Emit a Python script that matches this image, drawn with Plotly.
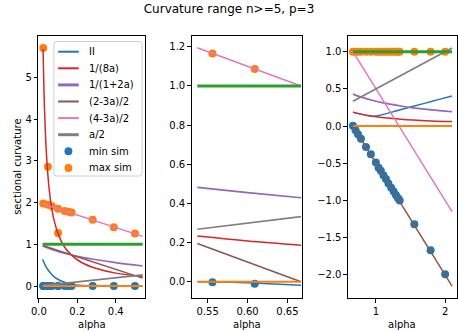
import plotly.graph_objects as go

W, H = 458, 332
FONT = "DejaVu Sans"

C_BLUE = "#1f77b4"; C_ORANGE = "#ff7f0e"; C_GREEN = "#2ca02c"; C_RED = "#d62728"
C_PURPLE = "#9467bd"; C_BROWN = "#8c564b"; C_PINK = "#e377c2"; C_GRAY = "#7f7f7f"

# ---------------- Panel 1 data ----------------
p1_ii_x = [0.02, 0.036, 0.054, 0.08, 0.116, 0.152, 0.19, 0.25, 0.35, 0.54]
p1_ii_y = [0.64, 0.47, 0.35, 0.22, 0.12, 0.064, 0.025, 0.01, 0.003, 0.0]
p1_red_x = [0.022, 0.024, 0.027, 0.03, 0.034, 0.04, 0.046, 0.055, 0.065, 0.08, 0.1, 0.13, 0.17, 0.22, 0.3, 0.4, 0.54]
p1_red_y = [5.68, 5.21, 4.63, 4.17, 3.68, 3.13, 2.72, 2.27, 1.92, 1.56, 1.25, 0.96, 0.74, 0.57, 0.42, 0.31, 0.23]
p1_pur_x = [0.02, 0.06, 0.1, 0.15, 0.2, 0.3, 0.4, 0.54]
p1_pur_y = [0.96, 0.89, 0.83, 0.77, 0.71, 0.63, 0.56, 0.48]
p1_lin_x = [0.02, 0.54]
p1_brown_y = [0.97, 0.19]
p1_pink_y = [1.97, 1.19]
p1_gray_y = [0.01, 0.27]
p1_green_y = [1.0, 1.0]
p1_orange_y = [0.0, 0.0]
p1_min_x = [0.023, 0.023, 0.047, 0.047, 0.068, 0.1, 0.1, 0.134, 0.154, 0.17, 0.28, 0.39, 0.5]
p1_min_y = [0.0, 0.0, 0.0, 0.0, 0.0, 0.0, 0.0, 0.0, 0.0, 0.0, 0.0, 0.0, 0.0]
p1_max_x = [0.023, 0.023, 0.047, 0.047, 0.068, 0.1, 0.1, 0.134, 0.154, 0.17, 0.28, 0.39, 0.5]
p1_max_y = [5.70, 1.98, 2.86, 1.95, 1.91, 1.85, 1.27, 1.80, 1.78, 1.76, 1.59, 1.41, 1.26]

# ---------------- Panel 2 data ----------------
p2_ii_x = [0.537, 0.58, 0.6, 0.62, 0.64, 0.667]
p2_ii_y = [0.0, -0.002, -0.005, -0.009, -0.013, -0.018]
p2_cur_x = [0.537, 0.6, 0.667]
p2_red_y = [0.233, 0.208, 0.187]
p2_pur_y = [0.482, 0.455, 0.429]
p2_lin_x = [0.537, 0.667]
p2_brown_y = [0.195, 0.0]
p2_pink_y = [1.195, 1.0]
p2_gray_y = [0.268, 0.333]
p2_green_y = [1.0, 1.0]
p2_orange_y = [0.0, 0.0]
p2_min_x = [0.556, 0.609]
p2_min_y = [-0.003, -0.01]
p2_max_x = [0.556, 0.609]
p2_max_y = [1.166, 1.087]

# ---------------- Panel 3 data ----------------
p3_ii_x = [0.667, 0.75, 0.85, 0.94, 1.1, 1.3, 1.5, 1.7, 1.9, 2.1]
p3_ii_y = [0.187, 0.167, 0.147, 0.133, 0.155, 0.205, 0.255, 0.305, 0.355, 0.405]
p3_red_x = [0.667, 0.75, 0.85, 1.0, 1.2, 1.4, 1.6, 1.8, 2.1]
p3_red_y = [0.187, 0.167, 0.147, 0.125, 0.104, 0.089, 0.078, 0.069, 0.06]
p3_pur_x = [0.667, 0.8, 1.0, 1.2, 1.4, 1.6, 1.8, 2.1]
p3_pur_y = [0.429, 0.385, 0.333, 0.294, 0.263, 0.238, 0.217, 0.192]
p3_lin_x = [0.667, 2.1]
p3_brown_y = [0.0, -2.15]
p3_pink_y = [1.0, -1.15]
p3_gray_y = [0.333, 1.05]
p3_green_y = [1.0, 1.0]
p3_orange_y = [0.0, 0.0]
p3_sim_x = [0.667, 0.705, 0.74, 0.783, 0.856, 0.926, 0.998, 1.038, 1.07, 1.108,
            1.144, 1.18, 1.22, 1.257, 1.29, 1.32, 1.343, 1.555, 1.79, 2.0]
p3_min_y = [0.005, -0.055, -0.11, -0.17, -0.28, -0.38, -0.49, -0.56, -0.60, -0.66,
            -0.71, -0.77, -0.83, -0.88, -0.93, -0.97, -1.0, -1.32, -1.67, -1.99]
p3_max_y = [1.0] * 20

# legend entries (label, colour, kind, legend line width)
legend_labels = ["II", "1/(8a)", "1/(1+2a)", "(2-3a)/2", "(4-3a)/2", "a/2", "min sim", "max sim"]
legend_colors = [C_BLUE, C_RED, C_PURPLE, C_BROWN, C_PINK, C_GRAY, C_BLUE, C_ORANGE]
legend_kinds = ["line"] * 6 + ["marker"] * 2
legend_widths = [2, 2, 3, 2, 2, 3, 0, 0]

fig = go.Figure()

def line(x, y, color, width, ax, shape="linear"):
    fig.add_trace(go.Scatter(x=x, y=y, mode="lines", line=dict(color=color, width=width, shape=shape),
                             showlegend=False, xaxis="x" + ax, yaxis="y" + ax, hoverinfo="skip"))

def pts(x, y, color, ax):
    fig.add_trace(go.Scatter(x=x, y=y, mode="markers", marker=dict(color=color, size=8),
                             showlegend=False, xaxis="x" + ax, yaxis="y" + ax, hoverinfo="skip"))

panels = [
    ("", p1_ii_x, p1_ii_y, p1_red_x, p1_red_y, p1_pur_x, p1_pur_y, p1_lin_x, p1_brown_y, p1_pink_y,
     p1_gray_y, p1_green_y, p1_orange_y, p1_min_x, p1_min_y, p1_max_x, p1_max_y),
    ("2", p2_ii_x, p2_ii_y, p2_cur_x, p2_red_y, p2_cur_x, p2_pur_y, p2_lin_x, p2_brown_y, p2_pink_y,
     p2_gray_y, p2_green_y, p2_orange_y, p2_min_x, p2_min_y, p2_max_x, p2_max_y),
    ("3", p3_ii_x, p3_ii_y, p3_red_x, p3_red_y, p3_pur_x, p3_pur_y, p3_lin_x, p3_brown_y, p3_pink_y,
     p3_gray_y, p3_green_y, p3_orange_y, p3_sim_x, p3_min_y, p3_sim_x, p3_max_y),
]

for (ax, iix, iiy, rx, ry, px, py, lx, by, piy, gy, gry, ory, mnx, mny, mxx, mxy) in panels:
    pts(mnx, mny, C_BLUE, ax)
    pts(mxx, mxy, C_ORANGE, ax)
    line(iix, iiy, C_BLUE, 1.5, ax, "spline")
    line(rx, ry, C_RED, 1.5, ax, "spline")
    line(px, py, C_PURPLE, 1.7, ax, "spline")
    line(lx, by, C_BROWN, 1.5, ax)
    line(lx, piy, C_PINK, 1.5, ax)
    line(lx, gy, C_GRAY, 1.7, ax)
    line(lx, gry, C_GREEN, 3, ax)
    line(lx, ory, C_ORANGE, 2, ax)

def px2x(p):
    return p / W

def px2y(p):
    return 1 - p / H

ydom = [px2y(298), px2y(36)]
axcommon = dict(showline=True, linecolor="black", linewidth=1, mirror=True, ticks="outside",
                ticklen=3.5, tickwidth=0.8, tickcolor="black", showgrid=False, zeroline=False,
                tickfont=dict(family=FONT, size=10, color="black"))

fig.update_layout(
    width=W, height=H, margin=dict(l=0, r=0, t=0, b=0),
    paper_bgcolor="white", plot_bgcolor="white",
    font=dict(family=FONT, size=10, color="black"),
    showlegend=False,
    xaxis=dict(domain=[px2x(31), px2x(139)], range=[-0.002, 0.55], dtick=0.2, tick0=0,
               tickformat=".1f", anchor="y", **axcommon),
    yaxis=dict(domain=ydom, range=[-0.286, 5.99], dtick=1, tick0=0, anchor="x", **axcommon),
    xaxis2=dict(domain=[px2x(187), px2x(299)], range=[0.53, 0.668], dtick=0.05, tick0=0.55,
                tickformat=".2f", anchor="y2", **axcommon),
    yaxis2=dict(domain=ydom, range=[-0.083, 1.255], dtick=0.2, tick0=0, tickformat=".1f",
                anchor="x2", **axcommon),
    xaxis3=dict(domain=[px2x(346), px2x(457)], range=[0.595, 2.172], dtick=1, tick0=0,
                anchor="y3", **axcommon),
    yaxis3=dict(domain=ydom, range=[-2.31, 1.21], dtick=0.5, tick0=0, tickformat=".1f",
                anchor="x3", **axcommon),
    title=dict(text="Curvature range n>=5, p=3", x=0.5, xanchor="center", y=px2y(8.5),
               yanchor="middle", font=dict(family=FONT, size=12, color="black")),
)

# ---- legend drawn in panel 1 (paper coordinates) ----
shapes = []
ann = []
bx0, bx1, by0, by1, r = 46.7, 136.5, 41.5, 176.0, 3.0
path = (f"M {px2x(bx0 + r)} {px2y(by0)} L {px2x(bx1 - r)} {px2y(by0)} "
        f"Q {px2x(bx1)} {px2y(by0)} {px2x(bx1)} {px2y(by0 + r)} "
        f"L {px2x(bx1)} {px2y(by1 - r)} Q {px2x(bx1)} {px2y(by1)} {px2x(bx1 - r)} {px2y(by1)} "
        f"L {px2x(bx0 + r)} {px2y(by1)} Q {px2x(bx0)} {px2y(by1)} {px2x(bx0)} {px2y(by1 - r)} "
        f"L {px2x(bx0)} {px2y(by0 + r)} Q {px2x(bx0)} {px2y(by0)} {px2x(bx0 + r)} {px2y(by0)} Z")
shapes.append(dict(type="path", path=path, xref="paper", yref="paper", layer="above",
                   line=dict(color="#d0d0d0", width=1), fillcolor="rgba(255,255,255,0.8)"))
row0, step = 51.7, 16.6
for i, (lab, col, kind, lw) in enumerate(zip(legend_labels, legend_colors, legend_kinds, legend_widths)):
    yc = row0 + i * step
    if kind == "line":
        shapes.append(dict(type="line", xref="paper", yref="paper", layer="above",
                           x0=px2x(51), x1=px2x(72), y0=px2y(yc), y1=px2y(yc),
                           line=dict(color=col, width=lw)))
    else:
        shapes.append(dict(type="circle", xref="paper", yref="paper", layer="above",
                           x0=px2x(61.5 - 4), x1=px2x(61.5 + 4), y0=px2y(yc - 4), y1=px2y(yc + 4),
                           line=dict(width=0), fillcolor=col))
    ann.append(dict(text=lab, x=px2x(80), y=px2y(yc), xref="paper", yref="paper", showarrow=False,
                    xanchor="left", yanchor="middle", font=dict(family=FONT, size=10, color="black")))

for (a, b) in [(31, 139), (187, 299), (346, 457)]:
    ann.append(dict(text="alpha", x=px2x((a + b) / 2), y=px2y(324), xref="paper", yref="paper",
                    showarrow=False, xanchor="center", yanchor="middle",
                    font=dict(family=FONT, size=10, color="black")))
ann.append(dict(text="sectional curvature", x=px2x(9), y=px2y(167), xref="paper", yref="paper",
                showarrow=False, textangle=-90, xanchor="center", yanchor="middle",
                font=dict(family=FONT, size=10, color="black")))
fig.update_layout(annotations=ann, shapes=shapes)

fig.write_html("out.html", config={"displayModeBar": False},
               post_script="document.body.style.margin='0px';")
